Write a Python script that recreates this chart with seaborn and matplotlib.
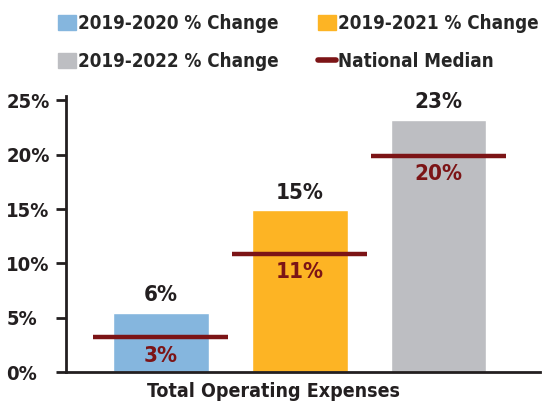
import pandas as pd
import seaborn as sns
from matplotlib import pyplot as plt
from matplotlib.patches import Patch
from matplotlib.lines import Line2D

periods = ["2019-2020 % Change", "2019-2021 % Change", "2019-2022 % Change"]
pct_change = [5.45, 14.9, 23.2]
bar_labels = ["6%", "15%", "23%"]
national_median = [3.2, 10.9, 19.9]
median_labels = ["3%", "11%", "20%"]
yticks = [0, 5, 10, 15, 20, 25]

colors = ["#85B6DE", "#FDB424", "#BDBEC2"]
median_color = "#7C1416"
text_color = "#231F20"

sns.set_style("white")
plt.rcParams["font.family"] = ["DejaVu Sans"]
plt.rcParams["font.stretch"] = "condensed"
plt.rcParams["font.weight"] = "bold"

df = pd.DataFrame({"period": periods, "value": pct_change})

fig = plt.figure(figsize=(5.46, 4.05), dpi=100)
ax = fig.add_axes([0.121, 0.081, 0.868, 0.682])

sns.barplot(data=df, x="period", y="value", hue="period", palette=colors,
            width=0.69, legend=False, ax=ax, saturation=1)

# national median lines + labels
for i, (m, lab) in enumerate(zip(national_median, median_labels)):
    ax.hlines(m, i - 0.485, i + 0.485, color=median_color, lw=3.2, zorder=3)
    ax.text(i, m - 0.75, lab, ha="center", va="top", fontsize=16,
            color=median_color, fontweight="bold")

for i, (v, lab) in enumerate(zip(pct_change, bar_labels)):
    ax.text(i, v + 0.7, lab, ha="center", va="bottom", fontsize=16,
            color=text_color, fontweight="bold")

ax.set_xlim(-0.68, 2.73)
ax.set_ylim(0, 25.4)
ax.set_yticks(yticks)
ax.set_yticklabels([f"{t}%" for t in yticks], fontsize=14.5, color=text_color,
                   ha="left")
ax.set_xticks([])
ax.set_xlabel("Total Operating Expenses", fontsize=14, color=text_color,
              fontweight="bold")
ax.xaxis.set_label_coords(0.437, -0.035)
ax.xaxis.label.set_va("top")
ax.set_ylabel("")
ax.tick_params(axis="y", length=7, width=2, color=text_color, left=True, pad=36)
sns.despine(ax=ax, top=True, right=True)
ax.spines["left"].set_linewidth(2)
ax.spines["bottom"].set_linewidth(2)
ax.spines["left"].set_color(text_color)
ax.spines["bottom"].set_color(text_color)

handles = [Patch(color=colors[0]), Patch(color=colors[2]),
           Patch(color=colors[1]), Line2D([], [], color=median_color, lw=4)]
labels = [periods[0], periods[2], periods[1], "National Median"]
fig.legend(handles, labels, loc="upper left", bbox_to_anchor=(58 / 546, 1 - 14 / 405),
           ncol=2, frameon=False, borderpad=0, borderaxespad=0,
           handlelength=0.95, handleheight=0.85,
           handletextpad=0.12, columnspacing=2.1, labelspacing=1.0,
           prop={"weight": "bold", "size": 13.5, "stretch": "condensed"})

fig.savefig("out.png", dpi=100)
